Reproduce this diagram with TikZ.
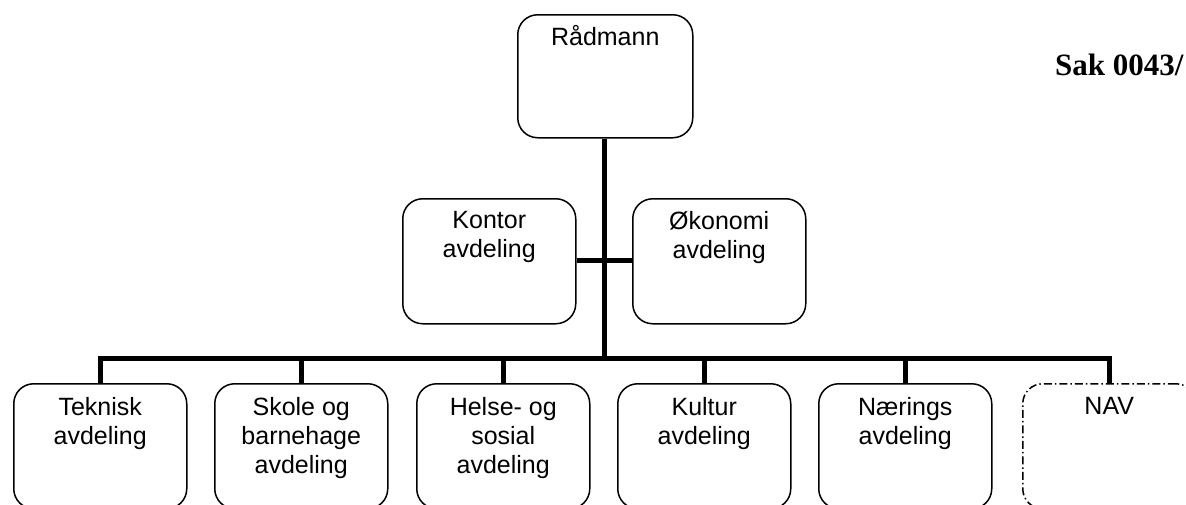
\documentclass[tikz,border=0pt]{standalone}
\usepackage{fontspec}
\setmainfont{Liberation Sans}
\newfontfamily\timesfont{Liberation Serif}
\begin{document}
\begin{tikzpicture}[x=1pt,y=-1pt,
  box/.style={draw=black,line width=1.5pt,rounded corners=20pt,minimum width=173pt,minimum height=125pt,inner sep=0pt,anchor=north west},
  navbox/.style={box,dash pattern=on 8pt off 3pt on 1.5pt off 3pt},
  lbl/.style={anchor=north,inner sep=0pt,align=center,font=\fontsize{25}{29}\selectfont},
  conn/.style={line width=5pt}]
\useasboundingbox (0,0) rectangle (1186,504);
\clip (0,0) rectangle (1186,504);
% top
\node[box,minimum width=175pt,minimum height=123pt] (rad) at (517,14) {};
\node[lbl] (radt) at ([yshift=-11pt]rad.north) {Rådmann};
% staff
\node[box,minimum height=125pt] (kon) at (402,198) {};
\node[lbl] (kont) at ([yshift=-13pt]kon.north) {Kontor\\avdeling};
\node[box,minimum height=125pt] (oko) at (632,198) {};
\node[lbl] (okot) at ([yshift=-13pt]oko.north) {Økonomi\\avdeling};
% bottom row
\node[box] (b1) at (13,383) {};
\node[box] (b2) at (214,383) {};
\node[box] (b3) at (416,383) {};
\node[box] (b4) at (617,383) {};
\node[box] (b5) at (818,383) {};
\node[navbox] (b6) at (1022,383) {};
\node[lbl] (t1) at ([yshift=-14pt]b1.north) {Teknisk\\avdeling};
\node[lbl] (t2) at ([yshift=-14pt]b2.north) {Skole og\\barnehage\\avdeling};
\node[lbl] (t3) at ([yshift=-14pt]b3.north) {Helse- og\\sosial\\avdeling};
\node[lbl] (t4) at ([yshift=-14pt]b4.north) {Kultur\\avdeling};
\node[lbl] (t5) at ([yshift=-14pt]b5.north) {Nærings\\avdeling};
\node[lbl] (t6) at ([yshift=-14pt]b6.north) {NAV};
% connectors
\coordinate (bus) at (604,358);
\draw[conn] (rad.south -| bus) -- (bus);
\draw[conn] (kon.east |- 0,260) -- (oko.west |- 0,260);
\draw[conn] (b1.north) -- (b1.north |- bus) -- (b6.north |- bus) -- (b6.north);
\draw[conn] (b2.north) -- (b2.north |- bus);
\draw[conn] (b3.north) -- (b3.north |- bus);
\draw[conn] (b4.north) -- (b4.north |- bus);
\draw[conn] (b5.north) -- (b5.north |- bus);
% header text
\node[anchor=base west,inner sep=0pt,font=\timesfont\bfseries\fontsize{31}{37}\selectfont] (sak) at (1055,75) {Sak 0043/};
\end{tikzpicture}
\end{document}
